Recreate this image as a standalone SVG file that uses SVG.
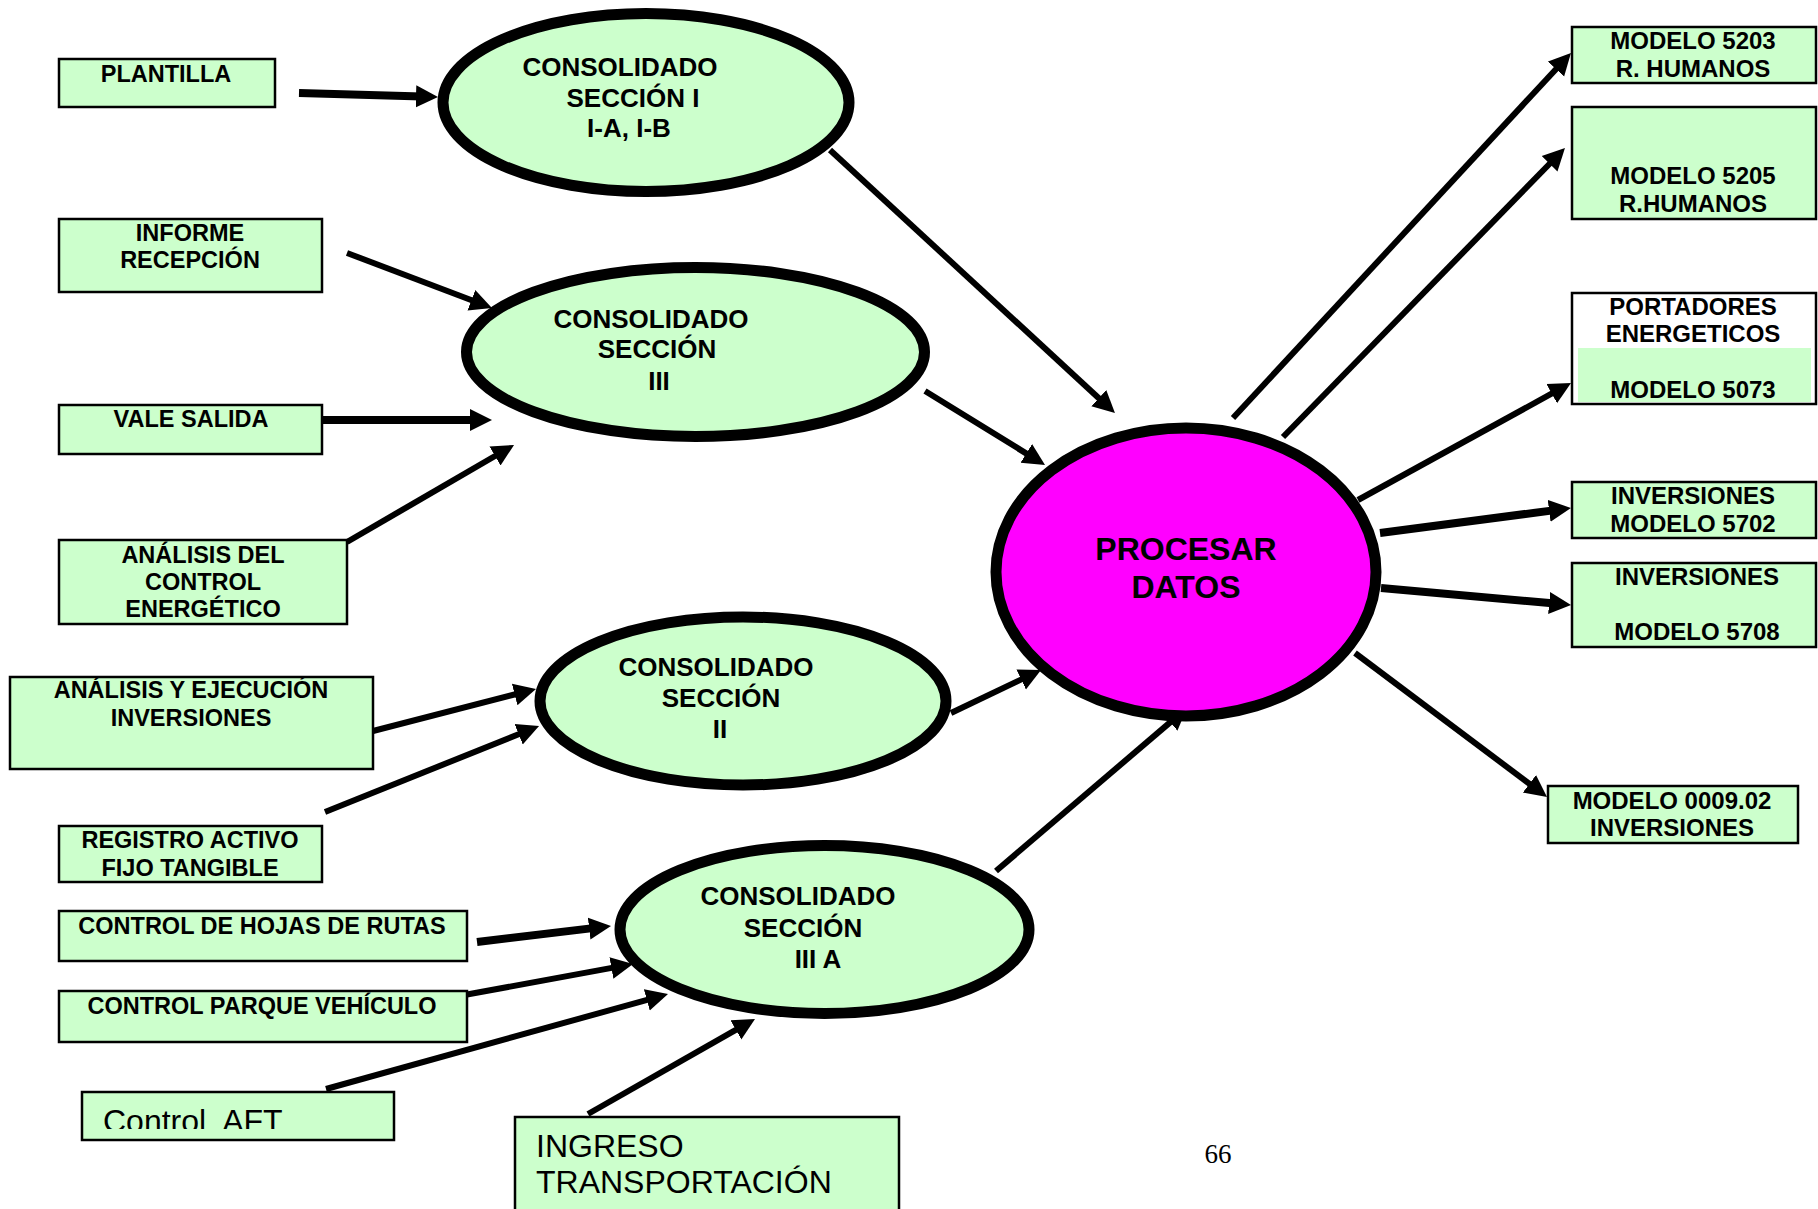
<svg xmlns="http://www.w3.org/2000/svg" width="1818" height="1209" viewBox="0 0 1818 1209">
<style>
.box{fill:#CCFFCC;stroke:#000;stroke-width:2.5}
.ell{fill:#CCFFCC;stroke:#000;stroke-width:11}
.t{font-family:"Liberation Sans",Arial,sans-serif;font-weight:bold;font-size:23.5px;fill:#000;text-anchor:middle}
.te{font-family:"Liberation Sans",Arial,sans-serif;font-weight:bold;font-size:26px;fill:#000;text-anchor:middle}
.tr{font-family:"Liberation Sans",Arial,sans-serif;font-weight:bold;font-size:24px;fill:#000;text-anchor:middle}
.tn{font-family:"Liberation Sans",Arial,sans-serif;font-size:32px;fill:#000}
.a{stroke:#000;stroke-width:6;fill:none;marker-end:url(#ah)}
.a8{stroke:#000;stroke-width:8;fill:none;marker-end:url(#ah)}
</style>
<defs>
<marker id="ah" markerUnits="userSpaceOnUse" markerWidth="24" markerHeight="24" viewBox="0 0 24 24" refX="6" refY="12" orient="auto">
<path d="M0,1 L22,12 L0,23 z" fill="#000"/>
</marker>
<clipPath id="aftclip"><rect x="82" y="1091" width="313" height="38"/></clipPath>
</defs>
<rect width="1818" height="1209" fill="#fff"/>

<g id="connectors">
<line class="a8" x1="299" y1="93" x2="422" y2="96.5"/>
<line class="a" x1="347" y1="253" x2="477" y2="302.3"/>
<line class="a8" x1="323" y1="420" x2="476" y2="420"/>
<line class="a" x1="347" y1="542" x2="500.2" y2="453"/>
<line class="a" x1="830" y1="150" x2="1103.2" y2="402.2"/>
<line class="a" x1="925" y1="391" x2="1031.4" y2="456.6"/>
<line class="a" x1="373" y1="731" x2="520.5" y2="693"/>
<line class="a" x1="325" y1="812" x2="524.2" y2="732"/>
<line class="a" x1="951" y1="713" x2="1026.6" y2="676.9"/>
<line class="a8" x1="477" y1="942" x2="595.1" y2="927.9"/>
<line class="a" x1="467" y1="994.5" x2="617.3" y2="966.9"/>
<line class="a" x1="326" y1="1089" x2="652.6" y2="998.3"/>
<line class="a" x1="588" y1="1114" x2="741.1" y2="1026.9"/>
<line class="a" x1="996" y1="871" x2="1174.8" y2="718.4"/>
<line class="a" x1="1233" y1="418" x2="1560.1" y2="64.7"/>
<line class="a" x1="1283" y1="437" x2="1553.8" y2="159.5"/>
<line class="a" x1="1358" y1="500" x2="1557" y2="390.7"/>
<line class="a8" x1="1380" y1="533" x2="1555.1" y2="510.1"/>
<line class="a8" x1="1381" y1="588" x2="1555.1" y2="603.6"/>
<line class="a" x1="1355" y1="653" x2="1534.2" y2="787.4"/>
</g>

<g id="plantilla">
<rect class="box" x="59" y="59" width="216" height="48"/>
<text class="t" x="166" y="82">PLANTILLA</text>
</g>
<g id="informe">
<rect class="box" x="59" y="219" width="263" height="73"/>
<text class="t" x="190" y="241">INFORME</text>
<text class="t" x="190" y="268">RECEPCIÓN</text>
</g>
<g id="vale">
<rect class="box" x="59" y="405" width="263" height="49"/>
<text class="t" x="191" y="427">VALE SALIDA</text>
</g>
<g id="analisis-control">
<rect class="box" x="59" y="540" width="288" height="84"/>
<text class="t" x="203" y="563">ANÁLISIS DEL</text>
<text class="t" x="203" y="590">CONTROL</text>
<text class="t" x="203" y="617">ENERGÉTICO</text>
</g>
<g id="analisis-inversiones">
<rect class="box" x="10" y="677" width="363" height="92"/>
<text class="t" x="191" y="698">ANÁLISIS Y EJECUCIÓN</text>
<text class="t" x="191" y="726">INVERSIONES</text>
</g>
<g id="registro">
<rect class="box" x="59" y="826" width="263" height="56"/>
<text class="t" x="190" y="848">REGISTRO ACTIVO</text>
<text class="t" x="190" y="876">FIJO TANGIBLE</text>
</g>
<g id="hojas-rutas">
<rect class="box" x="59" y="911" width="408" height="50"/>
<text class="t" x="262" y="934">CONTROL DE HOJAS DE RUTAS</text>
</g>
<g id="parque">
<rect class="box" x="59" y="991" width="408" height="51"/>
<text class="t" x="262" y="1014">CONTROL PARQUE VEHÍCULO</text>
</g>
<g id="control-aft">
<rect class="box" x="82" y="1092" width="312" height="48"/>
<text class="tn" x="103" y="1132" clip-path="url(#aftclip)">Control&#160; AFT</text>
</g>
<g id="ingreso">
<rect class="box" x="515" y="1117" width="384" height="100"/>
<text class="tn" x="536" y="1157">INGRESO</text>
<text class="tn" x="536" y="1193">TRANSPORTACIÓN</text>
</g>

<g id="seccion-i">
<ellipse class="ell" cx="646" cy="102.5" rx="203" ry="89"/>
<text class="te" x="620" y="76">CONSOLIDADO</text>
<text class="te" x="633" y="107">SECCIÓN I</text>
<text class="te" x="629" y="137">I-A, I-B</text>
</g>
<g id="seccion-iii">
<ellipse class="ell" cx="695.5" cy="352" rx="229" ry="84.5"/>
<text class="te" x="651" y="328">CONSOLIDADO</text>
<text class="te" x="657" y="358">SECCIÓN</text>
<text class="te" x="659" y="390">III</text>
</g>
<g id="seccion-ii">
<ellipse class="ell" cx="743" cy="701" rx="203" ry="84"/>
<text class="te" x="716" y="676">CONSOLIDADO</text>
<text class="te" x="721" y="707">SECCIÓN</text>
<text class="te" x="720" y="738">II</text>
</g>
<g id="seccion-iii-a">
<ellipse class="ell" cx="824.5" cy="929.5" rx="204.5" ry="84"/>
<text class="te" x="798" y="905">CONSOLIDADO</text>
<text class="te" x="803" y="937">SECCIÓN</text>
<text class="te" x="818" y="968">III A</text>
</g>
<g id="procesar">
<ellipse cx="1186" cy="572" rx="190" ry="144" fill="#FF00FF" stroke="#000" stroke-width="11"/>
<text class="te" x="1186" y="560" style="font-size:32px">PROCESAR</text>
<text class="te" x="1186" y="598" style="font-size:32px">DATOS</text>
</g>

<g id="modelo-5203">
<rect class="box" x="1572" y="27" width="244" height="56"/>
<text class="tr" x="1693" y="49">MODELO 5203</text>
<text class="tr" x="1693" y="77">R. HUMANOS</text>
</g>
<g id="modelo-5205">
<rect class="box" x="1572" y="107" width="244" height="112"/>
<text class="tr" x="1693" y="184">MODELO 5205</text>
<text class="tr" x="1693" y="212">R.HUMANOS</text>
</g>
<g id="portadores">
<rect x="1572" y="293" width="244" height="111" fill="#fff" stroke="#000" stroke-width="2.5"/>
<rect x="1578" y="348" width="233" height="54" fill="#CCFFCC"/>
<text class="tr" x="1693" y="315">PORTADORES</text>
<text class="tr" x="1693" y="342">ENERGETICOS</text>
<text class="tr" x="1693" y="398">MODELO 5073</text>
</g>
<g id="inversiones-5702">
<rect class="box" x="1572" y="482" width="244" height="56"/>
<text class="tr" x="1693" y="504">INVERSIONES</text>
<text class="tr" x="1693" y="532">MODELO 5702</text>
</g>
<g id="inversiones-5708">
<rect class="box" x="1572" y="563" width="244" height="84"/>
<text class="tr" x="1697" y="585">INVERSIONES</text>
<text class="tr" x="1697" y="640">MODELO 5708</text>
</g>
<g id="modelo-0009">
<rect class="box" x="1548" y="786" width="250" height="57"/>
<text class="tr" x="1672" y="809">MODELO 0009.02</text>
<text class="tr" x="1672" y="836">INVERSIONES</text>
</g>

<text x="1218" y="1163" font-family="'Liberation Serif','Times New Roman',serif" font-size="27" text-anchor="middle" fill="#000">66</text>
</svg>
